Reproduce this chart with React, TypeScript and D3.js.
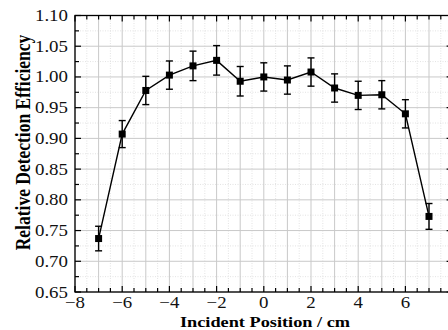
import React from "react";
import * as d3 from "d3";

// incident position (cm) and measured relative efficiency
const positions = [-7, -6, -5, -4, -3, -2, -1, 0, 1, 2, 3, 4, 5, 6, 7];
const efficiency = [0.737, 0.907, 0.978, 1.003, 1.018, 1.027, 0.993, 1.0, 0.995, 1.008, 0.982, 0.97, 0.971, 0.94, 0.773];
const errors = [0.02, 0.022, 0.023, 0.023, 0.024, 0.024, 0.024, 0.023, 0.023, 0.023, 0.023, 0.023, 0.023, 0.023, 0.021];

const xTicks = [-8, -6, -4, -2, 0, 2, 4, 6, 8];
const yTicks = [0.65, 0.7, 0.75, 0.8, 0.85, 0.9, 0.95, 1.0, 1.05, 1.1];

const W = 448;
const H = 330;
const left = 75;
const top = 15.5;
const right = 452.6;
const bottom = 292;

const font = "'Liberation Serif', 'Times New Roman', serif";
// the source picture is a little wider than tall, so text is stretched
const sx = 1.18;

const App = () => {
    const x = d3.scaleLinear([-8, 8], [left, right]);
    const y = d3.scaleLinear([0.65, 1.1], [bottom, top]);

    const xMinor = d3.range(-8, 8.01, 0.5);
    const xGridMajor = d3.range(-8, 8.01, 1);
    const yMinor = d3.range(0, 19).map((i) => 0.65 + i * 0.025);

    const line = d3
        .line<number>()
        .x((d, i) => x(positions[i]))
        .y((d) => y(d));

    return (
        <svg width={W} height={H} style={{ position: "absolute", left: 0, top: 0 }}>
            <rect x={0} y={0} width={W} height={H} fill="#fff" />
            {/* minor grid (dotted) */}
            {xMinor.filter((v) => Math.abs(v % 1) > 0.01).map((v) => (
                <line key={"gx" + v} x1={x(v)} x2={x(v)} y1={top} y2={bottom} stroke="#dcdcdc" strokeWidth={0.8} strokeDasharray="1,1.5" />
            ))}
            {yMinor.filter((_, i) => i % 2 === 1).map((v) => (
                <line key={"gy" + v} x1={left} x2={right} y1={y(v)} y2={y(v)} stroke="#dcdcdc" strokeWidth={0.8} strokeDasharray="1,1.5" />
            ))}
            {/* major grid */}
            {xGridMajor.map((v) => (
                <line key={"Gx" + v} x1={x(v)} x2={x(v)} y1={top} y2={bottom} stroke="#c9c9c9" strokeWidth={1} />
            ))}
            {yTicks.map((v) => (
                <line key={"Gy" + v} x1={left} x2={right} y1={y(v)} y2={y(v)} stroke="#c9c9c9" strokeWidth={1} />
            ))}

            {/* frame */}
            <rect x={left} y={top} width={right - left} height={bottom - top} fill="none" stroke="#000" strokeWidth={1.3} />

            {/* ticks, all pointing inward */}
            {xMinor.map((v) => {
                const len = Math.abs(v % 2) < 0.01 ? 6 : 4;
                return (
                    <React.Fragment key={"tx" + v}>
                        <line x1={x(v)} x2={x(v)} y1={bottom} y2={bottom - len} stroke="#000" strokeWidth={1.2} />
                        <line x1={x(v)} x2={x(v)} y1={top} y2={top + len} stroke="#000" strokeWidth={1.2} />
                    </React.Fragment>
                );
            })}
            {yMinor.map((v, i) => {
                const len = i % 2 === 0 ? 6 : 4;
                return (
                    <React.Fragment key={"ty" + i}>
                        <line x1={left} x2={left + len} y1={y(v)} y2={y(v)} stroke="#000" strokeWidth={1.2} />
                        <line x1={right} x2={right - len} y1={y(v)} y2={y(v)} stroke="#000" strokeWidth={1.2} />
                    </React.Fragment>
                );
            })}

            {/* tick labels */}
            {xTicks.map((v) => (
                <text key={"lx" + v} transform={`translate(${x(v)},308) scale(${sx},1)`} textAnchor="middle" fontFamily={font} fontSize={16} fill="#111">
                    {v < 0 ? "\u2212" + Math.abs(v) : v}
                </text>
            ))}
            {yTicks.map((v) => (
                <text key={"ly" + v} transform={`translate(68,${y(v) + 5.5}) scale(${sx},1)`} textAnchor="end" fontFamily={font} fontSize={16} fill="#111">
                    {v.toFixed(2)}
                </text>
            ))}

            {/* data line */}
            <path d={line(efficiency) || ""} fill="none" stroke="#000" strokeWidth={1.4} />
            {/* error bars */}
            {efficiency.map((v, i) => {
                const cx = x(positions[i]);
                const y1 = y(v + errors[i]);
                const y2 = y(v - errors[i]);
                return (
                    <g key={"e" + i} stroke="#000" strokeWidth={1.4}>
                        <line x1={cx} x2={cx} y1={y1} y2={y2} />
                        <line x1={cx - 3.5} x2={cx + 3.5} y1={y1} y2={y1} />
                        <line x1={cx - 3.5} x2={cx + 3.5} y1={y2} y2={y2} />
                    </g>
                );
            })}
            {/* markers */}
            {efficiency.map((v, i) => (
                <rect key={"m" + i} x={x(positions[i]) - 3.5} y={y(v) - 3.5} width={7} height={7} fill="#000" />
            ))}

            {/* axis titles */}
            <text transform={`translate(265,327) scale(${sx},1)`} textAnchor="middle" fontFamily={font} fontWeight="bold" fontSize={15.5} fill="#000">
                Incident Position / cm
            </text>
            <text
                transform={`translate(30,142.5) scale(1.15,1) rotate(-90)`}
                textAnchor="middle"
                fontFamily={font}
                fontWeight="bold"
                fontSize={17.5}
                fill="#000"
            >
                Relative Detection Efficiency
            </text>
        </svg>
    );
};

export default App;
